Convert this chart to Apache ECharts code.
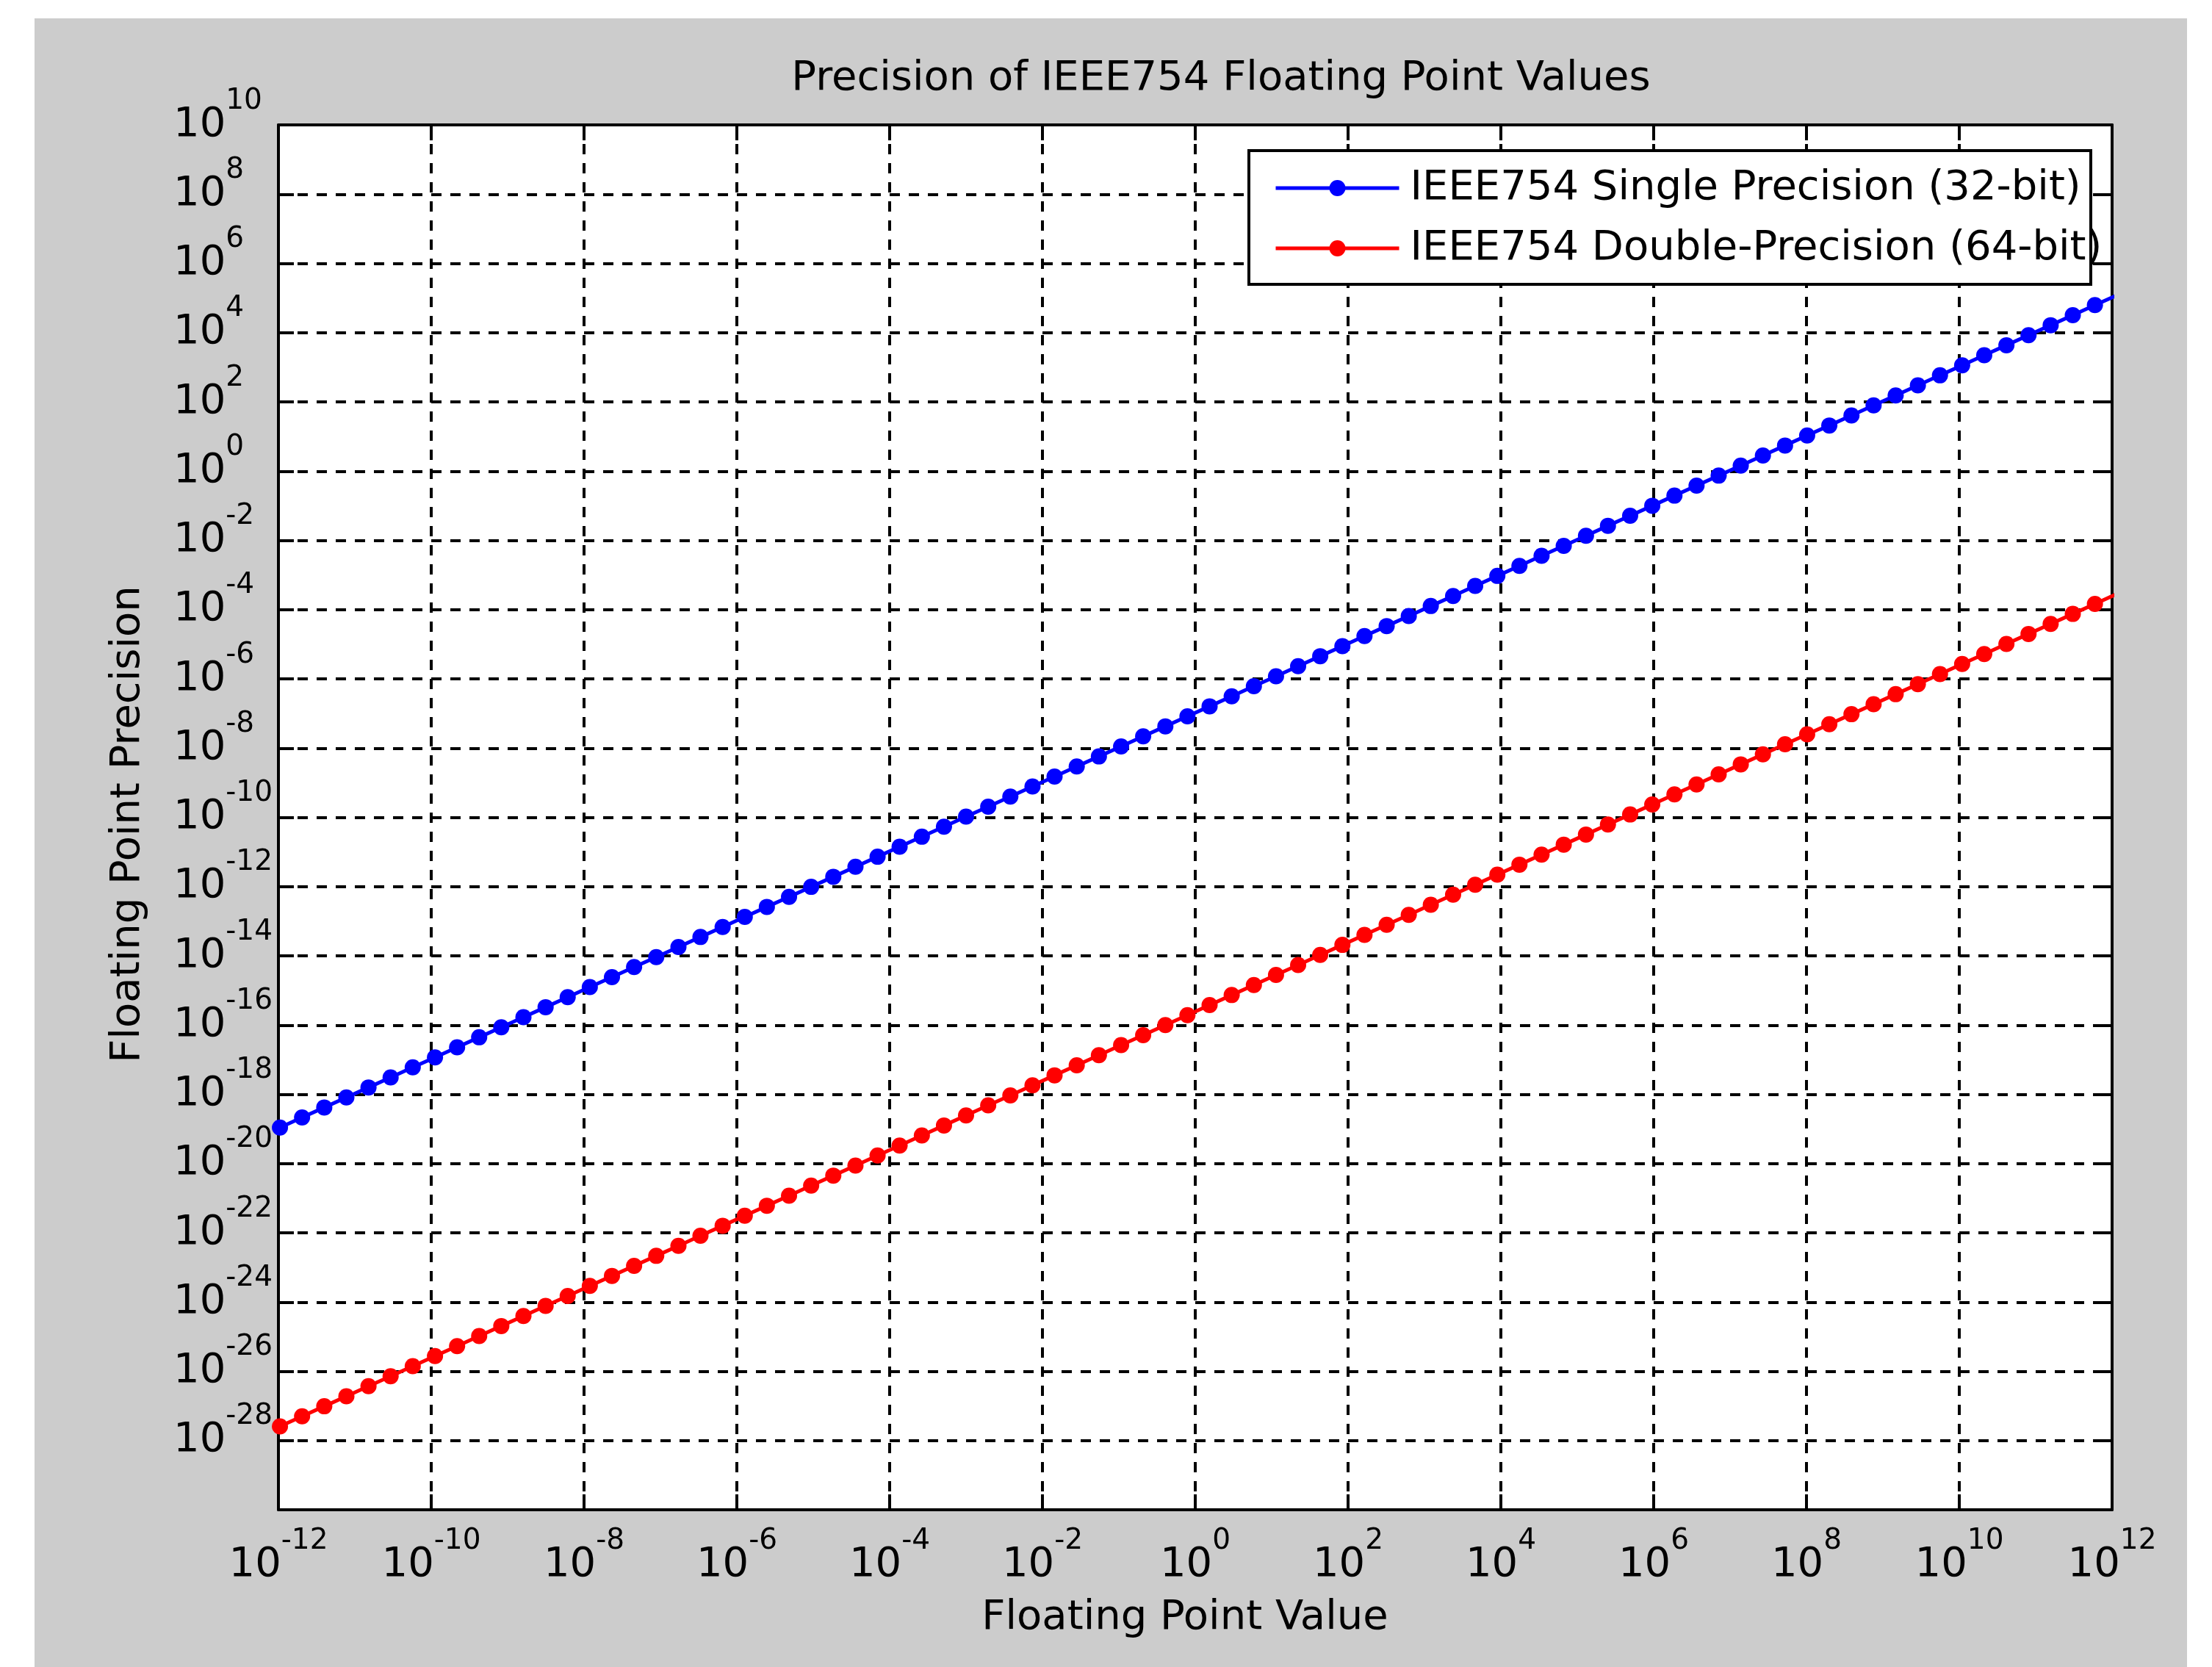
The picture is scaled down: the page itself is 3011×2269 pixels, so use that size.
<!DOCTYPE html>
<html><head><meta charset="utf-8">
<script src="https://cdn.jsdelivr.net/npm/echarts@6/dist/echarts.min.js"></script>
<style>
html,body{margin:0;padding:0;background:#fff;width:3011px;height:2269px;overflow:hidden;}
#chart{position:absolute;left:47px;top:25px;width:2930px;height:2244px;background:#cccccc;}
</style></head><body><div id="chart"></div>
<script>
// Floating point values (x)
const xValues = [5.37e-13, 1.047e-12, 2.04e-12, 3.98e-12, 7.75e-12, 1.51e-11, 2.94e-11, 5.73e-11,
  1.12e-10, 2.18e-10, 4.24e-10, 8.26e-10, 1.61e-9, 3.14e-9, 6.11e-9, 1.19e-8, 2.32e-8, 4.52e-8, 8.81e-8,
  1.72e-7, 3.34e-7, 6.52e-7, 1.27e-6, 2.47e-6, 4.82e-6, 9.39e-6, 1.83e-5, 3.57e-5, 6.95e-5, 1.35e-4,
  2.64e-4, 5.14e-4, 1.00e-3, 1.95e-3, 3.80e-3, 7.41e-3, 1.44e-2, 2.81e-2, 5.48e-2, 0.107, 0.208, 0.406,
  0.790, 1.54, 3.00, 5.85, 11.4, 22.2, 43.2, 84.3, 164, 320, 623, 1.21e3, 2.37e3, 4.61e3, 8.99e3, 1.75e4,
  3.41e4, 6.65e4, 1.30e5, 2.52e5, 4.92e5, 9.58e5, 1.87e6, 3.64e6, 7.09e6, 1.38e7, 2.69e7, 5.24e7, 1.02e8,
  1.99e8, 3.88e8, 7.56e8, 1.47e9, 2.87e9, 5.59e9, 1.09e10, 2.12e10, 4.14e10, 8.06e10, 1.57e11, 3.06e11,
  5.96e11, 1.16e12];
// IEEE754 single precision (32-bit)
const singlePrecision = [5.62e-20, 1.10e-19, 2.14e-19, 4.17e-19, 8.11e-19, 1.58e-18, 3.08e-18, 6.00e-18,
  1.17e-17, 2.28e-17, 4.44e-17, 8.65e-17, 1.69e-16, 3.29e-16, 6.40e-16, 1.25e-15, 2.43e-15, 4.73e-15, 9.22e-15,
  1.80e-14, 3.50e-14, 6.83e-14, 1.33e-13, 2.59e-13, 5.05e-13, 9.83e-13, 1.92e-12, 3.74e-12, 7.28e-12, 1.41e-11,
  2.76e-11, 5.38e-11, 1.05e-10, 2.04e-10, 3.98e-10, 7.76e-10, 1.51e-9, 2.94e-9, 5.74e-9, 1.12e-8, 2.18e-8, 4.25e-8,
  8.27e-8, 1.61e-7, 3.14e-7, 6.13e-7, 1.19e-6, 2.32e-6, 4.52e-6, 8.83e-6, 1.72e-5, 3.35e-5, 6.52e-5, 1.27e-4,
  2.48e-4, 4.83e-4, 9.41e-4, 1.83e-3, 3.57e-3, 6.96e-3, 1.36e-2, 2.64e-2, 5.15e-2, 1.00e-1, 1.96e-1, 3.81e-1,
  7.42e-1, 1.44, 2.82, 5.49, 10.7, 20.8, 40.6, 79.2, 154, 300, 585, 1.14e3, 2.22e3, 4.33e3, 8.44e3, 1.64e4,
  3.20e4, 6.24e4, 1.21e5];
// IEEE754 double precision (64-bit)
const doublePrecision = [1.32e-28, 2.57e-28, 5.01e-28, 9.77e-28, 1.90e-27, 3.71e-27, 7.22e-27, 1.41e-26,
  2.75e-26, 5.35e-26, 1.04e-25, 2.03e-25, 3.95e-25, 7.71e-25, 1.50e-24, 2.92e-24, 5.70e-24, 1.11e-23, 2.16e-23,
  4.22e-23, 8.20e-23, 1.60e-22, 3.12e-22, 6.06e-22, 1.18e-21, 2.31e-21, 4.49e-21, 8.76e-21, 1.71e-20, 3.31e-20,
  6.48e-20, 1.26e-19, 2.46e-19, 4.79e-19, 9.33e-19, 1.82e-18, 3.54e-18, 6.90e-18, 1.35e-17, 2.63e-17, 5.11e-17,
  9.97e-17, 1.94e-16, 3.78e-16, 7.37e-16, 1.44e-15, 2.80e-15, 5.45e-15, 1.06e-14, 2.07e-14, 4.03e-14, 7.86e-14,
  1.53e-13, 2.97e-13, 5.82e-13, 1.13e-12, 2.21e-12, 4.30e-12, 8.37e-12, 1.63e-11, 3.19e-11, 6.19e-11, 1.21e-10,
  2.35e-10, 4.59e-10, 8.94e-10, 1.74e-9, 3.39e-9, 6.60e-9, 1.29e-8, 2.50e-8, 4.89e-8, 9.53e-8, 1.86e-7, 3.61e-7,
  7.05e-7, 1.37e-6, 2.68e-6, 5.20e-6, 1.02e-5, 1.98e-5, 3.85e-5, 7.51e-5, 1.46e-4, 2.85e-4];

const seriesNames = ['IEEE754 Single Precision (32-bit)', 'IEEE754 Double-Precision (64-bit)'];
const xTickValues = [1e-12, 1e-10, 1e-8, 1e-6, 1e-4, 1e-2, 1e0, 1e2, 1e4, 1e6, 1e8, 1e10, 1e12];
const yTickValues = [1e-30, 1e-28, 1e-26, 1e-24, 1e-22, 1e-20, 1e-18, 1e-16, 1e-14, 1e-12, 1e-10,
  1e-8, 1e-6, 1e-4, 1e-2, 1e0, 1e2, 1e4, 1e6, 1e8, 1e10];
const yLabelValues = [1e-28, 1e-26, 1e-24, 1e-22, 1e-20, 1e-18, 1e-16, 1e-14, 1e-12, 1e-10,
  1e-8, 1e-6, 1e-4, 1e-2, 1e0, 1e2, 1e4, 1e6, 1e8, 1e10];

const FONT = 'DejaVu Sans';
const chart = echarts.init(document.getElementById('chart'), null, {renderer: 'canvas'});

function fmt(v) {
  const e = Math.round(Math.log10(v));
  return '{b|10}{s|' + e + '}';
}
const rich = {
  b: {fontSize: 56, fontFamily: FONT, color: '#000'},
  s: {fontSize: 39, fontFamily: FONT, color: '#000', padding: [0, 0, 65, 0]}
};
const gridLine = {show: true, lineStyle: {color: '#000', width: 4, type: [14, 12]}};
const spine = {show: true, onZero: false, lineStyle: {color: '#000', width: 4}};
function tick(vals) {
  return {show: true, inside: true, length: 21, customValues: vals, lineStyle: {color: '#000', width: 4}};
}

const option = {
  animation: false,
  backgroundColor: '#cccccc',
  textStyle: {fontFamily: FONT},
  grid: {left: 332, top: 145, width: 2496, height: 1885, show: true, backgroundColor: '#fff',
         borderWidth: 0, containLabel: false, outerBoundsMode: 'none'},
  xAxis: [
    {type: 'log', logBase: 10, min: 1e-12, max: 1e12, position: 'bottom',
     axisLine: spine, axisTick: tick(xTickValues),
     axisLabel: {show: true, customValues: xTickValues, formatter: fmt, rich: rich, margin: 23},
     splitLine: gridLine, minorTick: {show: false}, minorSplitLine: {show: false}},
    {type: 'log', logBase: 10, min: 1e-12, max: 1e12, position: 'top',
     axisLine: spine, axisTick: tick(xTickValues), axisLabel: {show: false},
     splitLine: {show: false}, minorTick: {show: false}}
  ],
  yAxis: [
    {type: 'log', logBase: 10, min: 1e-30, max: 1e10, position: 'left',
     axisLine: spine, axisTick: tick(yTickValues),
     axisLabel: {show: true, customValues: yLabelValues, formatter: fmt, rich: rich, margin: 143, align: 'left'},
     splitLine: gridLine, minorTick: {show: false}, minorSplitLine: {show: false}},
    {type: 'log', logBase: 10, min: 1e-30, max: 1e10, position: 'right',
     axisLine: spine, axisTick: tick(yTickValues), axisLabel: {show: false},
     splitLine: {show: false}, minorTick: {show: false}}
  ],
  legend: {
    orient: 'vertical', left: 1653, top: 180, data: seriesNames, z: 5,
    itemWidth: 168, itemHeight: 27.5, itemGap: 26, padding: [23, 0, 24, 34],
    backgroundColor: 'transparent', borderWidth: 0,
    selectedMode: false,
    lineStyle: {width: 5},
    textStyle: {fontSize: 56, fontFamily: FONT, color: '#000', lineHeight: 56, padding: [0, 0, 0, 10]}
  },
  graphic: [
    {type: 'rect', z: 4, shape: {x: 1653, y: 180, width: 1146, height: 182},
     style: {fill: '#fff', stroke: '#000', lineWidth: 4}},
    {type: 'text', x: 1615, y: 82, style: {text: 'Precision of IEEE754 Floating Point Values',
      font: '56px "DejaVu Sans"', fill: '#000', align: 'center', verticalAlign: 'middle'}},
    {type: 'text', x: 1566, y: 2177, style: {text: 'Floating Point Value',
      font: '56px "DejaVu Sans"', fill: '#000', align: 'center', verticalAlign: 'middle'}},
    {type: 'text', x: 127, y: 1097, rotation: Math.PI / 2, style: {text: 'Floating Point Precision',
      font: '56px "DejaVu Sans"', fill: '#000', align: 'center', verticalAlign: 'middle'}}
  ],
  series: [
    {type: 'line', name: seriesNames[0], xAxisIndex: 0, yAxisIndex: 0,
     data: xValues.map((x, i) => [x, singlePrecision[i]]),
     symbol: 'circle', symbolSize: 22, clip: true, color: '#0000ff',
     lineStyle: {width: 5, color: '#0000ff'}, itemStyle: {color: '#0000ff'},
     emphasis: {disabled: true}},
    {type: 'line', name: seriesNames[1], xAxisIndex: 0, yAxisIndex: 0,
     data: xValues.map((x, i) => [x, doublePrecision[i]]),
     symbol: 'circle', symbolSize: 22, clip: true, color: '#ff0000',
     lineStyle: {width: 5, color: '#ff0000'}, itemStyle: {color: '#ff0000'},
     emphasis: {disabled: true}}
  ]
};
chart.setOption(option);
</script></body></html>
